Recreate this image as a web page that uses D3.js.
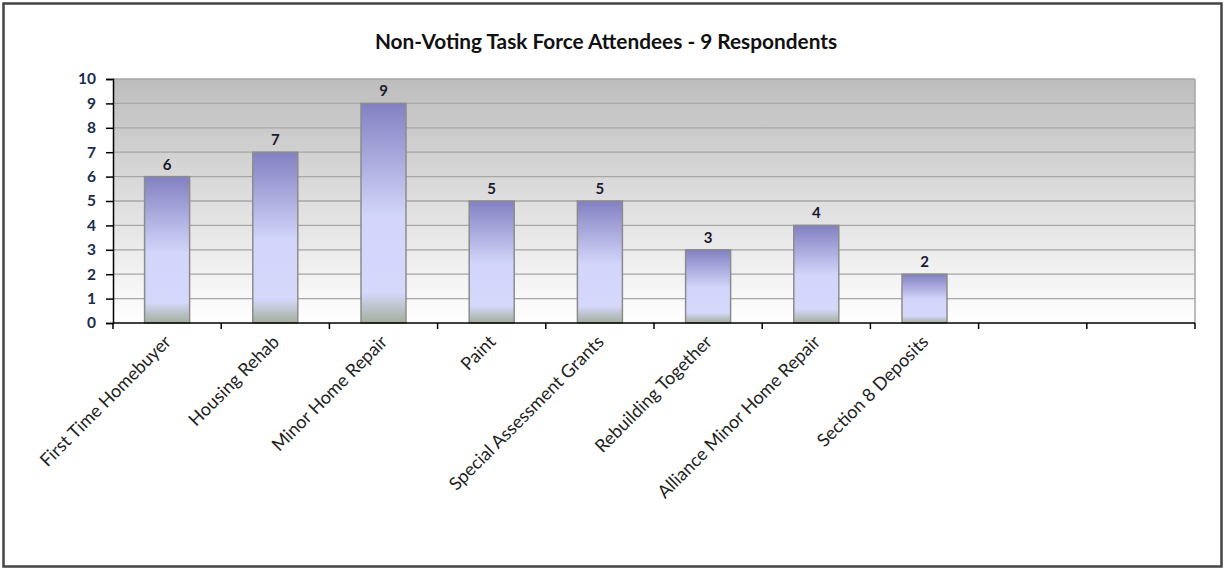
<!DOCTYPE html>
<html><head><meta charset="utf-8">
<script src="https://cdn.jsdelivr.net/npm/d3@7"></script>
<style>html,body{margin:0;padding:0;background:#fff;}</style>
</head><body>
<svg id="c" width="1225" height="569"></svg>
<script>
const title = "Non-Voting Task Force Attendees - 9 Respondents";
const categories = ["First Time Homebuyer","Housing Rehab","Minor Home Repair","Paint","Special Assessment Grants","Rebuilding Together","Alliance Minor Home Repair","Section 8 Deposits","",""];
const values = [6,7,9,5,5,3,4,2,null,null];
const yTicks = [0,1,2,3,4,5,6,7,8,9,10];

const svg = d3.select("#c");
const W = 1225, H = 569;
const m = {left:113, right:1195, top:79, bottom:323};
const font = "Lato, 'Open Sans', sans-serif";

// frame
svg.append("rect").attr("x",3.5).attr("y",3.5).attr("width",W-7).attr("height",H-6)
  .attr("fill","#fff").attr("stroke","#444").attr("stroke-width",2.5);

const defs = svg.append("defs");
const bg = defs.append("linearGradient").attr("id","bg").attr("x1",0).attr("y1",0).attr("x2",0).attr("y2",1);
bg.append("stop").attr("offset","0%").attr("stop-color","#bdbdbd");
bg.append("stop").attr("offset","100%").attr("stop-color","#ffffff");
const bar = defs.append("linearGradient").attr("id","bar").attr("x1",0).attr("y1",0).attr("x2",0).attr("y2",1);
[["0%","#8380c2"],["52%","#d3d6fa"],["86%","#d5d8fb"],["100%","#a3ae9c"]].forEach(s=>
  bar.append("stop").attr("offset",s[0]).attr("stop-color",s[1]));

const x = d3.scaleBand().domain(d3.range(categories.length)).range([m.left,m.right]).paddingInner(0).paddingOuter(0);
const y = d3.scaleLinear().domain([0,10]).range([m.bottom,m.top]);

// plot background
svg.append("rect").attr("x",m.left).attr("y",m.top).attr("width",m.right-m.left).attr("height",m.bottom-m.top)
  .attr("fill","url(#bg)");
// gridlines
svg.append("g").selectAll("line").data(yTicks.filter(d=>d>0)).join("line")
  .attr("x1",m.left).attr("x2",m.right).attr("y1",d=>y(d)).attr("y2",d=>y(d))
  .attr("stroke","#a6a6a6").attr("stroke-width",1.3);
svg.append("line").attr("x1",m.right).attr("x2",m.right).attr("y1",m.top).attr("y2",m.bottom)
  .attr("stroke","#a6a6a6").attr("stroke-width",1.5);

// bars
const bw = 45;
const data = values.map((v,i)=>({v,i})).filter(d=>d.v!=null);
svg.append("g").selectAll("rect").data(data).join("rect")
  .attr("x",d=>x(d.i)+x.bandwidth()/2-bw/2).attr("width",bw)
  .attr("y",d=>y(d.v)).attr("height",d=>y(0)-y(d.v))
  .attr("fill","url(#bar)").attr("stroke","#8c8c8c").attr("stroke-width",1.5);
svg.append("g").selectAll("text").data(data).join("text")
  .attr("x",d=>x(d.i)+x.bandwidth()/2).attr("y",d=>y(d.v)-7)
  .attr("text-anchor","middle").attr("font-family",font).attr("font-weight","bold")
  .attr("font-size",15).attr("fill","#1a1a2e").text(d=>d.v);

// y axis
const ya = svg.append("g").attr("transform",`translate(${m.left},0)`)
  .call(d3.axisLeft(y).tickValues(yTicks).tickSize(7).tickPadding(10).tickFormat(d3.format("d")));
ya.select(".domain").attr("stroke","#000").attr("stroke-width",1.5);
ya.selectAll(".tick line").attr("stroke","#000").attr("stroke-width",1.5);
ya.selectAll("text").attr("font-family",font).attr("font-weight","bold").attr("font-size",15.5).attr("fill","#1c2b4a");

// x axis
const xa = svg.append("g").attr("transform",`translate(0,${m.bottom})`);
xa.append("line").attr("x1",m.left).attr("x2",m.right).attr("stroke","#000").attr("stroke-width",1.5);
const bounds = d3.range(categories.length+1).map(i=>m.left + i*x.step());
xa.selectAll(".tk").data(bounds).join("line").attr("class","tk")
  .attr("x1",d=>d).attr("x2",d=>d).attr("y1",0).attr("y2",6).attr("stroke","#000").attr("stroke-width",1.5);
xa.selectAll(".lb").data(categories.map((c,i)=>({c,i})).filter(d=>d.c)).join("text").attr("class","lb")
  .attr("transform",d=>`translate(${x(d.i)+x.bandwidth()/2+5},${20}) rotate(-45)`)
  .attr("text-anchor","end").attr("font-family",font).attr("font-size",18).attr("fill","#222")
  .text(d=>d.c);

// title
svg.append("text").attr("x",606).attr("y",49).attr("text-anchor","middle")
  .attr("font-family",font).attr("font-weight","bold").attr("font-size",20.8).attr("fill","#111")
  .text(title);
</script>
</body></html>
